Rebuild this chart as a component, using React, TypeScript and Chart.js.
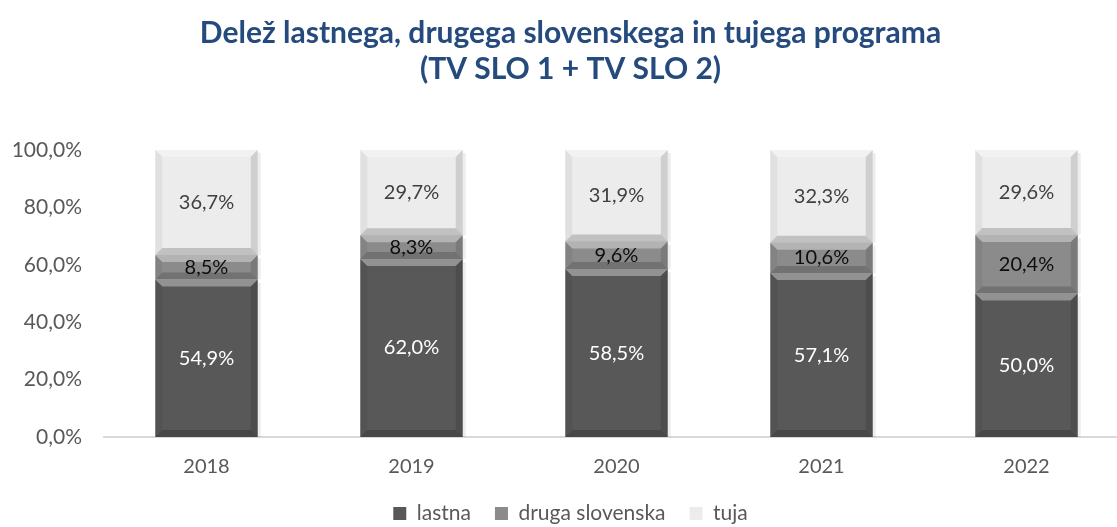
import React, { useEffect, useRef } from "react";
import { Chart, registerables } from "chart.js";

Chart.register(...registerables);

const categories = ["2018", "2019", "2020", "2021", "2022"];
const lastna = [54.9, 62.0, 58.5, 57.1, 50.0];
const drugaSlovenska = [8.5, 8.3, 9.6, 10.6, 20.4];
const tuja = [36.7, 29.7, 31.9, 32.3, 29.6];
const seriesNames = ["lastna", "druga slovenska", "tuja"];
const yTicks = [0, 20, 40, 60, 80, 100];

const FONT = "Lato, 'Open Sans', sans-serif";
const fmt = (v: number) => v.toFixed(1).replace(".", ",") + "%";

const labelColors = ["#ffffff", "#0d0d0d", "#404040"];

const legendHeightPlugin = {
  id: "legendHeight",
  afterInit(chart: any) {
    const lg = chart.legend;
    if (!lg) return;
    const orig = lg.fit;
    lg.fit = function () {
      orig.call(this);
      this.height = 48;
    };
  },
};

const bevelAndLabels = {
  id: "bevelAndLabels",
  afterDatasetsDraw(chart: any) {
    const ctx = chart.ctx as CanvasRenderingContext2D;
    const poly = (pts: number[][], fill: string) => {
      ctx.beginPath();
      ctx.moveTo(pts[0][0], pts[0][1]);
      for (let i = 1; i < pts.length; i++) ctx.lineTo(pts[i][0], pts[i][1]);
      ctx.closePath();
      ctx.fillStyle = fill;
      ctx.fill();
    };
    chart.data.datasets.forEach((ds: any, di: number) => {
      const meta = chart.getDatasetMeta(di);
      meta.data.forEach((el: any, i: number) => {
        const { x, y, base, width } = el.getProps(["x", "y", "base", "width"], true);
        const left = x - width / 2;
        const right = x + width / 2;
        const top = Math.min(y, base);
        const bottom = Math.max(y, base);
        const b = Math.min(7, (bottom - top) / 2);
        ctx.save();
        poly([[left, top], [right, top], [right - b, top + b], [left + b, top + b]], "rgba(255,255,255,0.35)");
        poly([[left, top], [left + b, top + b], [left + b, bottom - b], [left, bottom]], "rgba(0,0,0,0.05)");
        poly([[right, top], [right - b, top + b], [right - b, bottom - b], [right, bottom]], "rgba(0,0,0,0.12)");
        poly([[left, bottom], [left + b, bottom - b], [right - b, bottom - b], [right, bottom]], "rgba(0,0,0,0.18)");
        ctx.fillStyle = "rgba(0,0,0,0.07)";
        ctx.fillRect(right, top + 3, 3, bottom - top - 3);
        const v = ds.data[i];
        ctx.font = `20px ${FONT}`;
        ctx.fillStyle = labelColors[di];
        ctx.textAlign = "center";
        ctx.textBaseline = "middle";
        ctx.fillText(fmt(v), x, (top + bottom) / 2);
        ctx.restore();
      });
    });
  },
};

export default function App() {
  const ref = useRef<HTMLCanvasElement>(null);
  useEffect(() => {
    const chart = new Chart(ref.current!, {
      type: "bar",
      data: {
        labels: categories,
        datasets: [
          { label: seriesNames[0], data: lastna, backgroundColor: "#585858", borderWidth: 0 },
          { label: seriesNames[1], data: drugaSlovenska, backgroundColor: "#8b8b8b", borderWidth: 0 },
          { label: seriesNames[2], data: tuja, backgroundColor: "#ececec", borderWidth: 0 },
        ],
      },
      options: {
        animation: false,
        responsive: true,
        maintainAspectRatio: false,
        layout: { padding: { left: 12, right: 23, top: 0, bottom: 0 } },
        datasets: { bar: { categoryPercentage: 0.5, barPercentage: 1 } },
        scales: {
          x: {
            stacked: true,
            grid: { display: false, drawTicks: false },
            border: { display: true, color: "#d9d9d9", width: 2 },
            ticks: { color: "#595959", font: { family: FONT, size: 20 }, padding: 18 },
            afterFit: (scale: any) => {
              scale.height = 42;
            },
          },
          y: {
            stacked: true,
            min: 0,
            max: 100,
            afterBuildTicks: (scale: any) => {
              scale.ticks = yTicks.map((v) => ({ value: v }));
            },
            afterFit: (scale: any) => {
              scale.width = 92;
            },
            grid: { display: false, drawTicks: false },
            border: { display: false },
            ticks: {
              color: "#595959",
              font: { family: FONT, size: 21 },
              padding: 22,
              callback: (v: any) => fmt(Number(v)),
            },
          },
        },
        plugins: {
          tooltip: { enabled: false },
          title: {
            display: true,
            text: ["Delež lastnega, drugega slovenskega in tujega programa", "(TV SLO 1 + TV SLO 2)"],
            color: "#254a7d",
            font: { family: FONT, size: 30, weight: "bold", lineHeight: 1.2 },
            padding: { top: 15, bottom: 63 },
          },
          legend: {
            position: "bottom",
            labels: {
              color: "#595959",
              font: { family: FONT, size: 21 },
              boxWidth: 13,
              boxHeight: 13,
              padding: 24,
            },
          },
        },
      },
      plugins: [legendHeightPlugin, bevelAndLabels],
    });
    return () => chart.destroy();
  }, []);
  return (
    <div style={{ position: "fixed", left: 0, top: 0, width: 1152, height: 527, background: "#fff" }}>
      <canvas ref={ref} />
    </div>
  );
}
